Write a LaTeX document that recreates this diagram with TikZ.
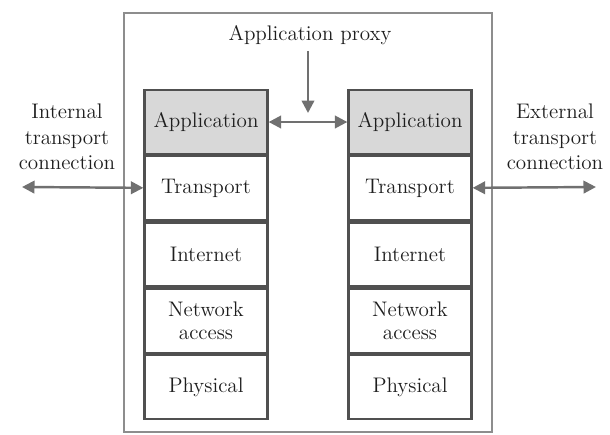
\documentclass[tikz,border=0pt]{standalone}
\usetikzlibrary{positioning, arrows.meta}
\definecolor{linegray}{HTML}{707070}
\definecolor{boxgray}{HTML}{505050}
\definecolor{appfill}{HTML}{D8D8D8}
\definecolor{textgray}{HTML}{1E1E1E}

\tikzset{
	layer/.style={draw=boxgray, line width=1.3pt, minimum width=2.46cm, minimum height=1.28cm, inner sep=0pt, align=center, text=textgray, font=\fontsize{12}{13.5}\selectfont},
	applayer/.style={layer, fill=appfill},
	label/.style={align=center, text=textgray, font=\fontsize{12}{14.5}\selectfont},
	conn/.style={draw=linegray, line width=1.4pt, {Triangle[length=2.5mm,width=2.5mm]}-{Triangle[length=2.5mm,width=2.5mm]}},
	down/.style={draw=linegray, line width=1.4pt, -{Triangle[length=2.5mm,width=2.5mm]}}
}

\begin{document}
\begin{tikzpicture}
	\useasboundingbox (0,0) rectangle (12.2,-8.68);
	\draw[draw=linegray!80, line width=1.1pt] (2.48,-0.26) rectangle (9.84,-8.64);

	\node[applayer] (lapp) at (4.12,-2.44) {Application};
	\node[layer, below=0pt of lapp] (ltrans) {Transport};
	\node[layer, below=0pt of ltrans] (linet) {Internet};
	\node[layer, below=0pt of linet] (lnet) {Network\\access};
	\node[layer, below=0pt of lnet] (lphys) {Physical};

	\node[applayer] (rapp) at (8.2,-2.44) {Application};
	\node[layer, below=0pt of rapp] (rtrans) {Transport};
	\node[layer, below=0pt of rtrans] (rinet) {Internet};
	\node[layer, below=0pt of rinet] (rnet) {Network\\access};
	\node[layer, below=0pt of rnet] (rphys) {Physical};

	\node[label] (proxy) at (6.2,-0.7) {Application proxy};
	\node[label] (internal) at (1.34,-2.74) {Internal\\transport\\connection};
	\node[label] (external) at (11.1,-2.74) {External\\transport\\connection};

	\coordinate (proxytip) at (6.16,-2.26);
	\coordinate (inend) at (0.44,-3.74);
	\coordinate (exend) at (11.92,-3.74);

	\draw[down] (proxy.south -| proxytip) -- (proxytip);
	\draw[conn] (lapp) -- (rapp);
	\draw[conn] (inend) -- (ltrans);
	\draw[conn] (rtrans) -- (exend);
\end{tikzpicture}
\end{document}
